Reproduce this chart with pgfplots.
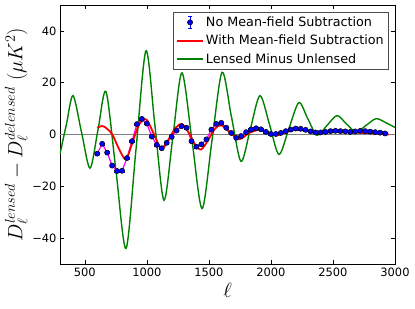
\documentclass[border=0pt]{standalone}
\usepackage[no-math]{fontspec}
\setmainfont{DejaVu Sans}
\usepackage{pgfplots}
\usepackage{pgfplotstable}
\pgfplotsset{compat=1.18}
\definecolor{mplgreen}{rgb}{0,0.5,0}
\definecolor{mplred}{rgb}{1,0,0}
\definecolor{mplblue}{rgb}{0,0,1}
\definecolor{mplmag}{rgb}{1,0,1}

\pgfplotstableread{
l d e
600 -7.4 0.4
640 -3.6 0.4
680 -7.0 0.4
720 -12.0 0.4
760 -14.1 0.4
800 -14.0 0.4
840 -9.1 0.4
880 -2.6 0.4
920 4.0 0.4
960 6.0 0.4
1000 4.2 0.4
1040 -0.8 0.4
1080 -4.0 0.4
1120 -5.3 0.4
1160 -3.2 0.4
1200 -0.9 0.4
1240 1.5 0.4
1280 3.2 0.4
1320 2.6 0.4
1360 -2.6 0.4
1400 -4.7 0.4
1440 -3.8 0.4
1480 -1.9 0.4
1520 1.9 0.4
1560 4.1 0.4
1600 4.5 0.4
1640 2.6 0.4
1680 0.6 0.4
1720 -1.3 0.4
1760 -0.6 0.4
1800 0.9 0.4
1840 1.9 0.4
1880 2.4 0.4
1920 2.0 0.4
1960 1.0 0.4
2000 0.2 0.4
2040 0.2 0.4
2080 0.6 0.4
2120 1.3 0.4
2160 1.9 0.4
2200 2.3 0.4
2240 2.2 0.4
2280 1.8 0.4
2320 1.2 0.4
2360 0.8 0.4
2400 0.8 0.4
2440 1.0 0.4
2480 1.3 0.4
2520 1.4 0.4
2560 1.3 0.4
2600 1.2 0.4
2640 1.0 0.4
2680 1.2 0.4
2720 1.4 0.4
2760 1.3 0.4
2800 1.1 0.4
2840 0.9 0.4
2880 0.7 0.4
2920 0.4 0.4
}\nomf

\pgfplotstableread{
l d
600 2.6
640 3.3
680 2.2
722 0
770 -5
830 -9.6
883 -3.2
937 3.8
996 5.8
1058 0
1118 -5.6
1180 -1.5
1230 2.5
1283 4
1340 0.5
1390 -4
1437 -5.8
1490 -2.5
1545 2
1598 3.6
1660 1.2
1745 -1.8
1825 0.6
1905 1.8
1975 0.9
2050 -0.3
2140 1.2
2225 1.9
2300 1.2
2380 0.5
2480 0.9
2600 0.9
2700 0.7
2800 0.5
2900 0.2
2950 0
}\withmf

\pgfplotstableread{
l d
300 -7.5
352 4
405 15
473 1
542 -13
606 1.7
671 16.5
751 -14
832 -44
912 -6
993 32.3
1065 3.5
1138 -25.4
1210 -0.8
1283 23.8
1364 -2.4
1445 -28.6
1525 -2.3
1606 24
1682 6.8
1759 -10.4
1835 2.3
1912 15
1990 3.6
2065 -7.7
2145 2.3
2225 12.3
2298 6
2372 -0.3
2452 3.5
2533 7.3
2610 4
2686 1.0
2767 3.5
2847 6.1
2925 4.6
3000 2.7
}\lensed

\begin{document}
\begin{tikzpicture}
\begin{axis}[
  scale only axis, width=335bp, height=259bp,
  xmin=300, xmax=3000, ymin=-50, ymax=50,
  scaled x ticks=false, scaled y ticks=false,
  xtick={500,1000,1500,2000,2500,3000},
  xticklabels={500,1000,1500,2000,2500,3000},
  ytick={-40,-20,0,20,40},
  yticklabels={−40,−20,0,20,40},
  tick label style={font=\fontsize{11.5}{13}\selectfont},
  major tick length=4bp,
  tick style={black, line width=0.6bp},
  axis line style={black, line width=0.8bp},
  xlabel={$\ell$},
  ylabel={$D_\ell^{lensed} - D_\ell^{delensed}\;(\mu K^2)$},
  label style={font=\fontsize{22}{26}\selectfont},
  ylabel style={yshift=-2bp},
  legend style={at={(rel axis cs:0.982,0.973)}, anchor=north east,
    font=\fontsize{12.8}{15}\selectfont, draw=black!70, line width=0.6bp,
    row sep=3.2bp, inner xsep=3bp, inner ysep=2.5bp},
  legend cell align=left,
]
\addplot[gray, line width=0.9bp, forget plot] coordinates {(300,0) (3000,0)};
\addplot[mplgreen, line width=1.4bp, smooth, forget plot] table[x=l,y=d] {\lensed};
\addplot[mplmag, line width=1.2bp, forget plot] table[x=l,y=d] {\nomf};
\addplot[only marks, mark=*, mark size=2.6bp,
  mark options={fill=mplblue, draw=black, line width=0.5bp},
  legend image code/.code={
    \draw[mplblue, line width=0.8bp] (0.46cm,-0.22cm) -- (0.46cm,0.22cm);
    \draw[mplblue, line width=0.8bp] (0.39cm,-0.22cm) -- (0.53cm,-0.22cm) (0.39cm,0.22cm) -- (0.53cm,0.22cm);
    \fill[mplblue, draw=black, line width=0.5bp] (0.46cm,0cm) circle (2.6bp);
  },
  error bars/.cd, y dir=both, y explicit, error bar style={mplblue, line width=0.6bp}]
  table[x=l, y=d, y error=e] {\nomf};
\addlegendentry{No Mean-field Subtraction}
\addplot[mplred, line width=1.8bp, smooth,
  legend image code/.code={\draw[mplred, line width=1.8bp] (0cm,0cm) -- (0.92cm,0cm);}]
  table[x=l,y=d] {\withmf};
\addlegendentry{With Mean-field Subtraction}
\addlegendimage{mplgreen, line width=1.4bp,
  legend image code/.code={\draw[mplgreen, line width=1.4bp] (0cm,0cm) -- (0.92cm,0cm);}}
\addlegendentry{Lensed Minus Unlensed}
\end{axis}
\pgfresetboundingbox
\path[use as bounding box] ([shift={(-60bp,-45bp)}]current axis.south west) rectangle ([shift={(20bp,5bp)}]current axis.north east);
\end{tikzpicture}
\end{document}
